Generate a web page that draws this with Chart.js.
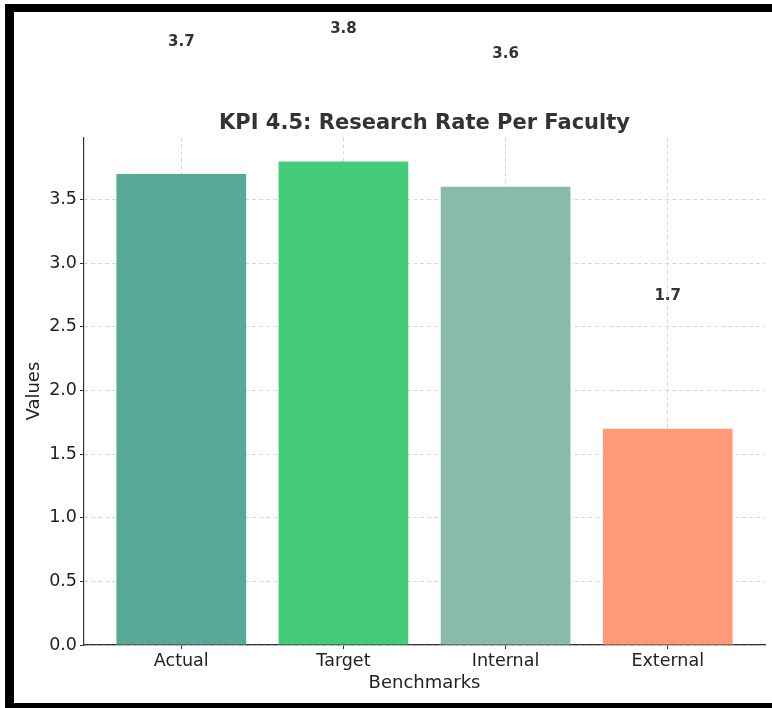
<!DOCTYPE html>
<html>
<head>
<meta charset="utf-8">
<script src="https://cdn.jsdelivr.net/npm/chart.js@4.4.1/dist/chart.umd.min.js"></script>
<style>
  html, body { margin: 0; padding: 0; background: #fff; }
  #wrap { position: relative; width: 772px; height: 708px; overflow: hidden; }
  #kpiChart { position: absolute; left: 0; top: 0; }
  .frame { position: absolute; background: #000; }
</style>
</head>
<body>
<div id="wrap">
  <canvas id="kpiChart" width="772" height="708"></canvas>
  <div class="frame" style="left:5px; top:4px; width:767px; height:8px;"></div>
  <div class="frame" style="left:5px; top:4px; width:9px; height:704px;"></div>
  <div class="frame" style="left:5px; top:703px; width:767px; height:5px;"></div>
</div>
<script>
const benchmarks = ["Actual", "Target", "Internal", "External"];
const values = [3.7, 3.8, 3.6, 1.7];
const barColors = ["#58A898", "#45CC78", "#8ABBA9", "#FF9A77"];
const yTicks = [0, 0.5, 1.0, 1.5, 2.0, 2.5, 3.0, 3.5];
const yMax = 3.99;
const labelOffset = 1.04;

const fontFamily = "'DejaVu Sans', sans-serif";
const gridColor = "rgba(200,200,200,0.7)";

// value labels sit well above each bar, as in the original figure
const valueLabels = {
    id: "valueLabels",
    afterDraw(chart) {
        const ctx = chart.ctx;
        const x = chart.scales.x;
        const y = chart.scales.y;
        ctx.save();
        ctx.font = "bold 15px " + fontFamily;
        ctx.fillStyle = "#333333";
        ctx.textAlign = "center";
        ctx.textBaseline = "middle";
        values.forEach(function (v, i) {
            ctx.fillText(v.toFixed(1), x.getPixelForValue(i), y.getPixelForValue(v + labelOffset));
        });
        ctx.restore();
    }
};

const ctx = document.getElementById("kpiChart").getContext("2d");

window.myChart = new Chart(ctx, {
    type: "bar",
    data: {
        datasets: [
            {
                label: "Values",
                data: values.map(function (v, i) { return { x: i, y: v }; }),
                backgroundColor: barColors,
                borderWidth: 0,
                barPercentage: 0.8,
                categoryPercentage: 1.0,
            },
        ],
    },
    options: {
        responsive: false,
        animation: false,
        layout: { padding: { left: 0, right: 7, top: 0, bottom: 0 } },
        plugins: {
            legend: { display: false },
            tooltip: { enabled: false },
            title: {
                display: true,
                fullSize: false,
                text: "KPI 4.5: Research Rate Per Faculty",
                color: "#333333",
                font: { family: fontFamily, size: 21, weight: "bold" },
                padding: { top: 111, bottom: 1 },
            },
        },
        scales: {
            x: {
                type: "linear",
                min: -0.6,
                max: 3.6,
                offset: false,
                z: 1,
                afterBuildTicks: function (axis) {
                    axis.ticks = benchmarks.map(function (b, i) { return { value: i }; });
                },
                afterFit: function (axis) { axis.height = 63; },
                ticks: {
                    color: "#222222",
                    font: { family: fontFamily, size: 17.5 },
                    padding: 2,
                    maxRotation: 0,
                    callback: function (value) { return benchmarks[value]; },
                },
                grid: {
                    offset: false,
                    color: gridColor,
                    lineWidth: 1,
                    tickColor: "#333333",
                    tickLength: 4,
                    tickWidth: 1,
                },
                border: { display: true, color: "#333333", width: 1.2, dash: [4, 3] },
                title: {
                    display: true,
                    text: "Benchmarks",
                    color: "#222222",
                    font: { family: fontFamily, size: 18 },
                    padding: { top: 0, bottom: 14 },
                },
            },
            y: {
                min: 0,
                max: yMax,
                z: 1,
                afterBuildTicks: function (axis) {
                    axis.ticks = yTicks.map(function (t) { return { value: t }; });
                },
                afterFit: function (axis) { axis.width = 84; },
                ticks: {
                    color: "#222222",
                    font: { family: fontFamily, size: 17.5 },
                    padding: 3,
                    callback: function (value) { return Number(value).toFixed(1); },
                },
                grid: {
                    color: gridColor,
                    lineWidth: 1,
                    tickColor: "#333333",
                    tickLength: 4,
                    tickWidth: 1,
                },
                border: { display: true, color: "#333333", width: 1.2, dash: [4, 3] },
                title: {
                    display: true,
                    text: "Values",
                    color: "#222222",
                    font: { family: fontFamily, size: 18 },
                    padding: { top: 24, bottom: 0 },
                },
            },
        },
    },
    plugins: [valueLabels],
});
</script>
</body>
</html>
